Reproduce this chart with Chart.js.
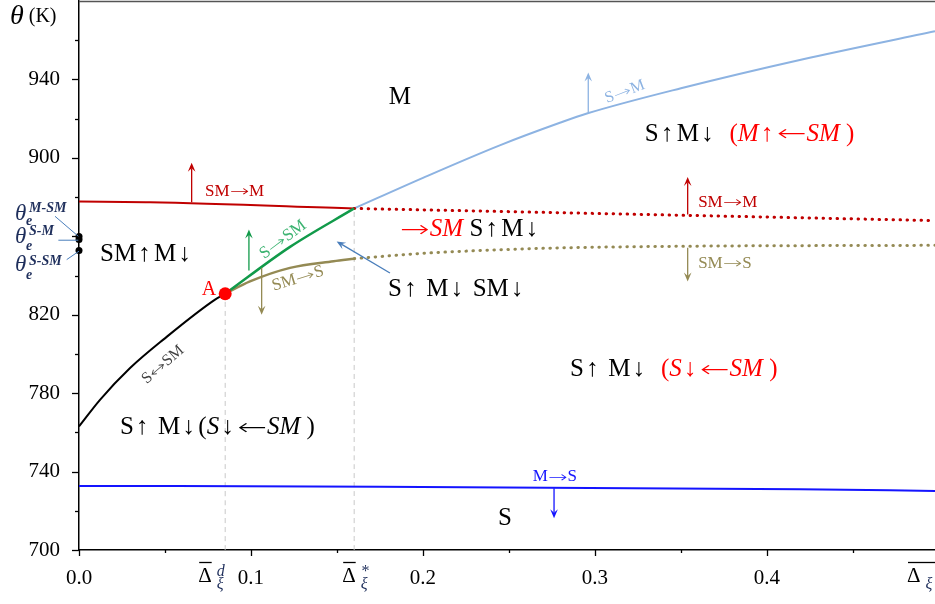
<!DOCTYPE html>
<html>
<head>
<meta charset="utf-8">
<script src="https://cdn.jsdelivr.net/npm/chart.js@4"></script>
<style>
  body { margin: 0; background: #fff; }
  canvas { display: block; }
</style>
</head>
<body>
<canvas id="phaseChart" width="935" height="604"></canvas>
<script>
// phase diagram: x = normalised Δξ, y = θ (K)
const xMin = 0, xMax = 0.4977;
const yMin = 700, yMax = 980;

// S↔SM equilibrium (black)
const sSmEqX = [0, 0.0122, 0.0297, 0.049, 0.0791, 0.085];
const sSmEqY = [763, 776.6, 792.8, 807.3, 827.7, 830.7];
// SM→M (red), solid then dotted
const smMX = [0, 0.0413, 0.16];
const smMY = [877.7, 877.4, 874.2];
const smMDotX = [0.16, 0.2814, 0.4977];
const smMDotY = [874.2, 872.0, 868.0];
// S→M (light blue)
const sMX = [0.16, 0.2, 0.245, 0.28, 0.2953, 0.35, 0.421, 0.4977];
const sMY = [874.2, 889.8, 906.5, 918.0, 922.6, 935.5, 950.3, 964.6];
// S→SM (green)
const sSMX = [0.085, 0.1227, 0.16];
const sSMY = [830.7, 854.6, 874.2];
// SM→S (olive), solid then dotted
const smSX = [0.085, 0.0994, 0.1227, 0.148, 0.16];
const smSY = [830.7, 837.0, 843.9, 847.3, 848.6];
const smSDotX = [0.16, 0.2, 0.25, 0.2814, 0.35, 0.4977];
const smSDotY = [848.6, 851.3, 853.3, 854.1, 854.9, 855.4];
// M→S (blue)
const mSX = [0, 0.175, 0.419, 0.4977];
const mSY = [732.7, 732.3, 731.0, 730.1];
// special points
const pointA = [0.085, 830.7];
const xiD = 0.085, xiStar = 0.16, thetaStar = 874.2;
const thetaE = [859.9, 858.3, 852.7]; // θe M-SM, S-M, S-SM
const yLabels = [700, 740, 780, 820, 900, 940];
const xLabels = [0, 0.1, 0.2, 0.3, 0.4];

const pts = (xs, ys) => xs.map((x, i) => ({ x: x, y: ys[i] }));
const SERIF = '"Liberation Serif", "Times New Roman", serif';
const ARROWS = '"DejaVu Sans", sans-serif';
const isMultiple = (v, step) => Math.abs(v / step - Math.round(v / step)) < 1e-6;
const inList = (v, list) => list.some(l => Math.abs(l - v) < 1e-6);

function fontOf(p, size) {
    const s = p.s || size;
    if (p.kind === 'h') return '200 ' + Math.round(s * 0.9) + 'px ' + ARROWS;
    return (p.i ? 'italic ' : '') + s + 'px ' + SERIF;
}

// text runs; horizontal arrows are stretched, vertical arrows get some room
const H_STRETCH = 1.55;
function rich(ctx, x, y, parts, align, size) {
    const runs = [];
    parts.forEach(p => p.t.split(/([←→↔↑↓])/).forEach(t => {
        if (!t) return;
        const kind = /[←→↔]/.test(t) ? 'h' : /[↑↓]/.test(t) ? 'v' : 'n';
        runs.push(Object.assign({}, p, { t: t, kind: kind }));
    }));
    let total = 0;
    runs.forEach(p => {
        const s = p.s || size;
        ctx.font = fontOf(p, size);
        const m = ctx.measureText(p.t).width;
        p.w = p.kind === 'h' ? m * H_STRETCH : p.kind === 'v' ? m + 0.22 * s : m;
        p.pre = p.kind === 'v' ? 0.08 * s : 0;
        total += p.w;
    });
    let cx = align === 'center' ? x - total / 2 : align === 'right' ? x - total : x;
    ctx.textAlign = 'left';
    ctx.textBaseline = 'middle';
    runs.forEach(p => {
        ctx.font = fontOf(p, size);
        ctx.fillStyle = p.c || '#000';
        if (p.kind === 'h') {
            ctx.save();
            ctx.translate(cx, y + 1);
            ctx.scale(H_STRETCH, 1);
            ctx.fillText(p.t, 0, 0);
            ctx.restore();
        } else {
            ctx.fillText(p.t, cx + p.pre, y);
        }
        cx += p.w;
    });
}

function arrow(ctx, x1, y1, x2, y2, color) {
    const a = Math.atan2(y2 - y1, x2 - x1), L = 9, H = 3.8;
    const c = Math.cos(a), s = Math.sin(a);
    ctx.strokeStyle = color;
    ctx.fillStyle = color;
    ctx.lineWidth = 1.3;
    ctx.beginPath();
    ctx.moveTo(x1, y1);
    ctx.lineTo(x2 - c * L * 0.6, y2 - s * L * 0.6);
    ctx.stroke();
    ctx.beginPath();
    ctx.moveTo(x2, y2);
    ctx.lineTo(x2 - L * c + H * s, y2 - L * s - H * c);
    ctx.lineTo(x2 - L * 0.6 * c, y2 - L * 0.6 * s);
    ctx.lineTo(x2 - L * c - H * s, y2 - L * s + H * c);
    ctx.closePath();
    ctx.fill();
}

const RED = '#ff0000', DRED = '#c00000', OLIVE = '#948a54', GREEN = '#119a4a',
      LBLUE = '#8db3e2', BLUE = '#1414ff', NAVY = '#1f2f5c';

// ticks, labels and annotations drawn on top of the library's scales
const decorations = {
    id: 'decorations',
    afterDatasetsDraw(chart) {
        const ctx = chart.ctx, xs = chart.scales.x, ys = chart.scales.y, area = chart.chartArea;
        const X = v => xs.getPixelForValue(v), Y = v => ys.getPixelForValue(v);
        ctx.save();

        // top frame line
        ctx.strokeStyle = '#555';
        ctx.lineWidth = 1.5;
        ctx.beginPath();
        ctx.moveTo(area.left, area.top + 0.5);
        ctx.lineTo(area.right, area.top + 0.5);
        ctx.stroke();

        // tick marks, long on major values
        ctx.strokeStyle = '#000';
        ctx.lineWidth = 1.3;
        ys.ticks.forEach(t => {
            if (!isMultiple(t.value - yMin, 20) || t.value >= yMax) return;
            const len = isMultiple(t.value - yMin, 40) ? 7 : 4, py = Math.round(Y(t.value)) + 0.5;
            ctx.beginPath(); ctx.moveTo(area.left - len, py); ctx.lineTo(area.left, py); ctx.stroke();
        });
        xs.ticks.forEach(t => {
            if (!isMultiple(t.value, 0.05)) return;
            const len = isMultiple(t.value, 0.1) ? 6 : 3, px = Math.round(X(t.value)) + 0.5;
            ctx.beginPath(); ctx.moveTo(px, area.bottom); ctx.lineTo(px, area.bottom + len); ctx.stroke();
        });

        // y axis title θ (K)
        rich(ctx, 10, 17, [{ t: 'θ', i: true, s: 28 }, { t: ' (K)', s: 20 }], 'left', 20);

        // θe labels with leader lines
        ctx.strokeStyle = '#4a7ebb';
        ctx.lineWidth = 1;
        [[-0.01395, 870.2, -0.0004, 860.0], [-0.012, 858.0, -0.0004, 858.0], [-0.00715, 848.1, 0, 852.4]]
            .forEach(l => { ctx.beginPath(); ctx.moveTo(X(l[0]), Y(l[1])); ctx.lineTo(X(l[2]), Y(l[3])); ctx.stroke(); });
        [['M-SM', 872.6, 868.5, 866.0], ['S-M', 860.9, 856.8, 853.2], ['S-SM', 845.6, 842.5, 838.4]].forEach(l => {
            const x0 = X(-0.0372);
            ctx.fillStyle = NAVY;
            ctx.textAlign = 'left';
            ctx.textBaseline = 'alphabetic';
            ctx.font = 'italic 23px ' + SERIF;
            ctx.fillText('θ', x0, Y(l[2]));
            ctx.font = 'italic bold 14px ' + SERIF;
            ctx.fillText(l[0], x0 + 14, Y(l[1]));
            ctx.font = 'italic bold 14px ' + SERIF;
            ctx.fillText('e', x0 + 11, Y(l[3]));
        });

        // special x labels: Δ̄ξ^d, Δ̄ξ^*, Δ̄ξ
        const deltaLabel = (left, sup, clipRight) => {
            const b = area.bottom;
            ctx.fillStyle = '#000';
            ctx.textAlign = 'left';
            ctx.textBaseline = 'alphabetic';
            ctx.font = '21px ' + SERIF;
            ctx.fillText('Δ', left, b + 32);
            const w = ctx.measureText('Δ').width;
            ctx.lineWidth = 1.3;
            ctx.strokeStyle = '#000';
            ctx.beginPath(); ctx.moveTo(left + 1, b + 12.5); ctx.lineTo(clipRight ? area.right : left + w, b + 12.5); ctx.stroke();
            ctx.fillStyle = NAVY;
            if (sup) { ctx.font = 'italic 16px ' + SERIF; ctx.fillText(sup, left + w + 5, b + 26); }
            ctx.font = 'italic 16px ' + SERIF;
            ctx.fillText('ξ', left + w + 5, b + 39);
        };
        deltaLabel(X(xiD) - 27, 'd', false);
        deltaLabel(X(xiStar) - 12, '*', false);
        deltaLabel(X(xMax) - 28, '', true);

        // region labels
        const big = 25;
        rich(ctx, X(0.1866), Y(930.8), [{ t: 'M' }], 'center', big);
        rich(ctx, X(0.329), Y(912), [{ t: 'S↑M↓  ' }, { t: '(', c: RED }, { t: 'M', i: true, c: RED },
            { t: '↑←', c: RED }, { t: 'SM', i: true, c: RED }, { t: ' )', c: RED }], 'left', big);
        rich(ctx, X(0.0122), Y(850.7), [{ t: 'SM↑M↓' }], 'left', big);
        rich(ctx, X(0.0238), Y(762.3), [{ t: 'S↑ M↓(' }, { t: 'S', i: true }, { t: '↓←' }, { t: 'SM', i: true },
            { t: ' )' }], 'left', big);
        rich(ctx, X(0.2855), Y(791.9), [{ t: 'S↑ M↓  ' }, { t: '(', c: RED }, { t: 'S', i: true, c: RED },
            { t: '↓←', c: RED }, { t: 'SM', i: true, c: RED }, { t: ' )', c: RED }], 'left', big);
        rich(ctx, X(0.2477), Y(716.3), [{ t: 'S' }], 'center', big);
        rich(ctx, X(0.1866), Y(863.4), [{ t: '→', c: RED }, { t: 'SM', i: true, c: RED }, { t: ' S↑M↓' }], 'left', big);
        rich(ctx, X(0.1797), Y(832.8), [{ t: 'S↑ M↓ SM↓' }], 'left', big);
        rich(ctx, X(0.0797), Y(832.8), [{ t: 'A', c: RED }], 'right', 20);

        // transition labels
        rich(ctx, X(0.0733), Y(882.8), [{ t: 'SM→M', c: DRED }], 'left', 17);
        rich(ctx, X(0.36), Y(877.2), [{ t: 'SM→M', c: DRED }], 'left', 17);
        rich(ctx, X(0.36), Y(846.1), [{ t: 'SM→S', c: OLIVE }], 'left', 17);
        rich(ctx, X(0.2767), Y(737.3), [{ t: 'M→S', c: BLUE }], 'center', 17);
        [[0.1273, 838.4, -17, 'SM→S', OLIVE, 17], [0.1186, 858.3, -37, 'S→SM', '#3cb371', 17],
         [0.0488, 794.5, -41, 'S↔SM', '#404040', 16], [0.3174, 933.7, -21, 'S→M', LBLUE, 16]].forEach(r => {
            ctx.save();
            ctx.translate(X(r[0]), Y(r[1]));
            ctx.rotate(r[2] * Math.PI / 180);
            rich(ctx, 0, 0, [{ t: r[3], c: r[4] }], 'center', r[5]);
            ctx.restore();
        });

        // direction arrows
        [[0.0655, 877.4, 0.0655, 897.5, DRED], [0.3539, 871.1, 0.3539, 890.3, DRED],
         [0.0988, 842.6, 0.0988, 863.4, GREEN], [0.1062, 843.9, 0.1062, 820.0, OLIVE],
         [0.3539, 854.1, 0.3539, 837.0, OLIVE], [0.2961, 923.0, 0.2961, 943.5, LBLUE],
         [0.2762, 731.5, 0.2762, 716.2, BLUE], [0.1808, 841.3, 0.1498, 857.4, '#4a7ebb']]
            .forEach(a => arrow(ctx, X(a[0]), Y(a[1]), X(a[2]), Y(a[3]), a[4]));

        ctx.restore();
    }
};

const line = (xs, ys, color, width, extra) => Object.assign({
    data: pts(xs, ys),
    showLine: true,
    borderColor: color,
    borderWidth: width,
    pointRadius: 0,
    fill: false,
    cubicInterpolationMode: 'monotone'
}, extra || {});
const dotted = { borderDash: [0.5, 6.5], borderCapStyle: 'round', borderWidth: 3 };

new Chart(document.getElementById('phaseChart'), {
    type: 'scatter',
    data: {
        datasets: [
            line([xiD, xiD], [yMin, pointA[1]], '#c8c8c8', 1, { borderDash: [5, 4], order: 9 }),
            line([xiStar, xiStar], [yMin, thetaStar], '#c8c8c8', 1, { borderDash: [5, 4], order: 9 }),
            line(mSX, mSY, BLUE, 2, { order: 5 }),
            line(sSmEqX, sSmEqY, '#000', 2, { order: 5 }),
            line(smMX, smMY, DRED, 2, { order: 5 }),
            line(smMDotX, smMDotY, DRED, 3, Object.assign({ order: 5 }, dotted)),
            line(sMX, sMY, LBLUE, 2, { order: 5 }),
            line(smSX, smSY, OLIVE, 2.5, { order: 5 }),
            line(smSDotX, smSDotY, OLIVE, 3, Object.assign({ order: 5 }, dotted)),
            line(sSMX, sSMY, GREEN, 2.5, { order: 4 }),
            { data: [{ x: pointA[0], y: pointA[1] }], pointRadius: 6.5, backgroundColor: RED, borderWidth: 0, order: 1 },
            { data: thetaE.map(v => ({ x: 0, y: v })), pointRadius: 3.5, backgroundColor: '#000', borderWidth: 0, clip: false, order: 1 }
        ]
    },
    options: {
        responsive: false,
        animation: false,
        events: [],
        layout: { autoPadding: false, padding: { top: 1, right: 0, left: 0, bottom: 0 } },
        plugins: { legend: { display: false }, tooltip: { enabled: false } },
        scales: {
            x: {
                type: 'linear',
                min: xMin,
                max: xMax,
                grid: { display: false, drawTicks: true, tickLength: 6 },
                border: { display: true, color: '#000', width: 1.5 },
                ticks: {
                    stepSize: 0.05,
                    includeBounds: false,
                    autoSkip: false,
                    maxRotation: 0,
                    padding: 10,
                    color: '#000',
                    font: { family: SERIF, size: 21 },
                    callback: v => inList(v, xLabels) ? v.toFixed(1) : ''
                },
                afterFit: s => { s.height = 54; s.paddingLeft = 0; s.paddingRight = 0; }
            },
            y: {
                min: yMin,
                max: yMax,
                grid: { display: false, drawTicks: true, tickLength: 7 },
                border: { display: true, color: '#000', width: 1.5 },
                ticks: {
                    stepSize: 20,
                    autoSkip: false,
                    padding: 12,
                    color: '#000',
                    font: { family: SERIF, size: 21 },
                    callback: v => inList(v, yLabels) ? String(v) : ''
                },
                afterFit: s => { s.width = 79; s.paddingTop = 0; s.paddingBottom = 0; }
            }
        }
    },
    plugins: [decorations]
});
</script>
</body>
</html>
